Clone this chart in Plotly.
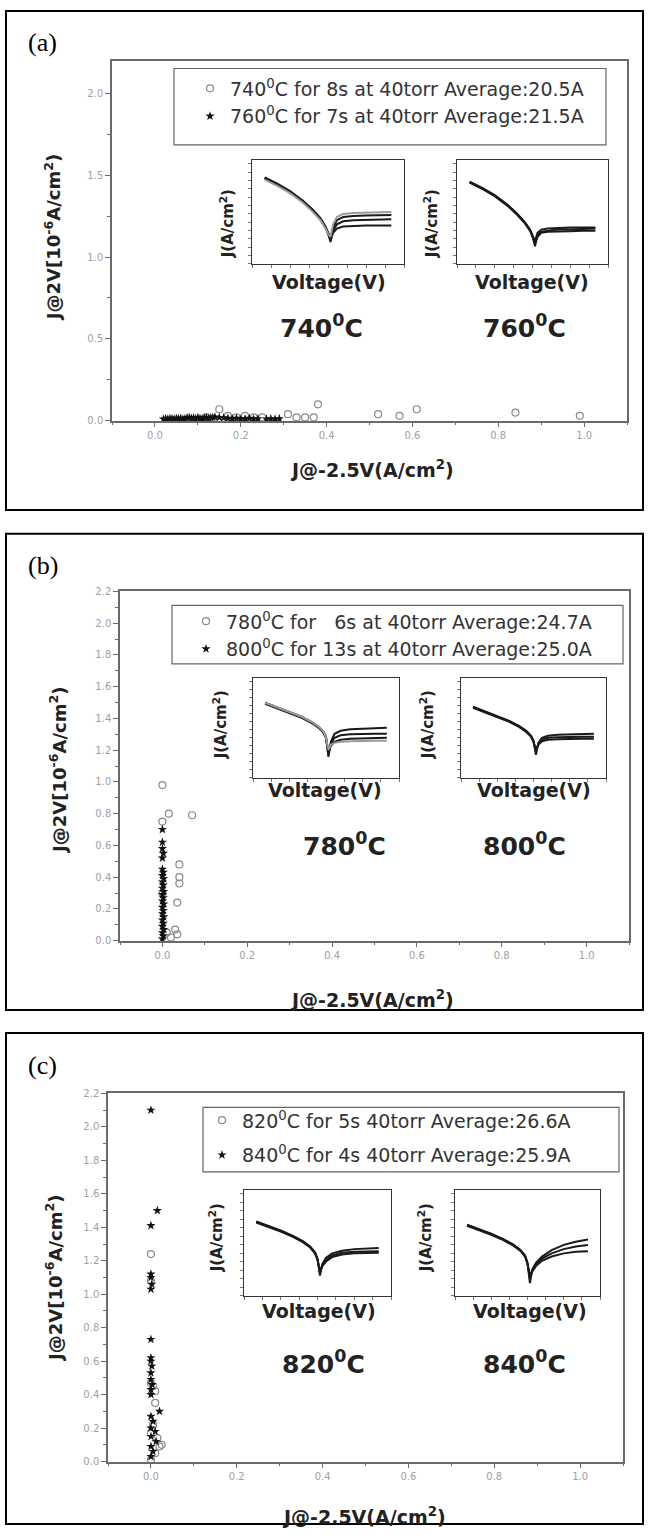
import plotly.graph_objects as go

W, H = 649, 1535

# ---------------- main scatter data ----------------
a_circ_x = [0.12, 0.15, 0.17, 0.19, 0.21, 0.23, 0.25, 0.31, 0.33, 0.35, 0.37, 0.38, 0.52, 0.57, 0.61, 0.84, 0.99]
a_circ_y = [0.02, 0.07, 0.03, 0.02, 0.03, 0.02, 0.02, 0.04, 0.02, 0.02, 0.02, 0.10, 0.04, 0.03, 0.07, 0.05, 0.03]
a_star_x = [0.02, 0.025, 0.03, 0.035, 0.04, 0.045, 0.05, 0.055, 0.06, 0.065, 0.07, 0.075, 0.08, 0.085,
            0.09, 0.095, 0.10, 0.105, 0.11, 0.115, 0.12, 0.125, 0.13, 0.135, 0.14, 0.15, 0.16, 0.17,
            0.18, 0.19, 0.20, 0.21, 0.22, 0.23, 0.24, 0.26, 0.27, 0.28, 0.29]
a_star_y = [0.01, 0.012, 0.01, 0.015, 0.012, 0.01, 0.015, 0.012, 0.015, 0.01, 0.012, 0.018, 0.02, 0.015,
            0.018, 0.012, 0.02, 0.015, 0.012, 0.018, 0.02, 0.015, 0.018, 0.02, 0.022, 0.02, 0.018, 0.015,
            0.012, 0.015, 0.01, 0.012, 0.015, 0.01, 0.012, 0.01, 0.012, 0.01, 0.012]

b_circ_x = [0.0, 0.015, 0.0, 0.07, 0.04, 0.04, 0.04, 0.035, 0.03, 0.035, 0.02, 0.01, 0.0]
b_circ_y = [0.98, 0.80, 0.75, 0.79, 0.48, 0.40, 0.36, 0.24, 0.07, 0.04, 0.02, 0.05, 0.30]
b_star_x = [0.0, 0.002, 0.0, 0.003, 0.0, 0.002, 0.0, 0.003, 0.0, 0.002, 0.0, 0.003, 0.0, 0.002,
            0.0, 0.003, 0.0, 0.002, 0.0, 0.003, 0.0, 0.002, 0.0, 0.0, 0.002, 0.0, 0.0, 0.0]
b_star_y = [0.01, 0.03, 0.05, 0.07, 0.09, 0.11, 0.13, 0.15, 0.17, 0.19, 0.21, 0.23, 0.25, 0.27,
            0.29, 0.31, 0.33, 0.35, 0.37, 0.39, 0.41, 0.43, 0.45, 0.52, 0.55, 0.58, 0.62, 0.70]

c_circ_x = [0.0, 0.0, 0.005, 0.01, 0.0, 0.01, 0.005, 0.0, 0.015, 0.02, 0.025, 0.01, 0.0]
c_circ_y = [1.24, 1.08, 0.45, 0.42, 0.47, 0.35, 0.22, 0.17, 0.14, 0.09, 0.10, 0.05, 0.01]
c_star_x = [0.0, 0.015, 0.0, 0.0, 0.0, 0.002, 0.0, 0.0, 0.0, 0.0, 0.002, 0.0, 0.0, 0.003,
            0.0, 0.0, 0.02, 0.0, 0.005, 0.0, 0.01, 0.0, 0.012, 0.0, 0.005, 0.0]
c_star_y = [2.10, 1.50, 1.41, 1.12, 1.10, 1.06, 1.03, 0.73, 0.62, 0.60, 0.57, 0.53, 0.49, 0.46,
            0.43, 0.40, 0.30, 0.27, 0.24, 0.20, 0.18, 0.15, 0.12, 0.09, 0.06, 0.03]

legend_a = ["740<sup>0</sup>C for 8s at 40torr Average:20.5A",
            "760<sup>0</sup>C for 7s at 40torr Average:21.5A"]
legend_b = ["780<sup>0</sup>C for \u00a0\u00a06s at 40torr Average:24.7A",
            "800<sup>0</sup>C for 13s at 40torr Average:25.0A"]
legend_c = ["820<sup>0</sup>C for 5s 40torr Average:26.6A",
            "840<sup>0</sup>C for 4s 40torr Average:25.9A"]
inset_temps = [["740", "760"], ["780", "800"], ["820", "840"]]

# ---------------- inset I-V data (log10 J vs V) ----------------
V = [-2.5, -2.0, -1.5, -1.0, -0.6, -0.3, -0.1, 0.0, 0.1, 0.2, 0.35, 0.6, 1.0, 1.5, 2.0, 2.5]

iv_740 = [
    [-1.7, -2.3, -3.0, -3.9, -4.8, -5.6, -6.4, -7.0, -7.9, -6.8, -6.2, -5.9, -5.8, -5.75, -5.7, -5.7],
    [-1.8, -2.4, -3.1, -4.0, -4.9, -5.7, -6.5, -7.1, -7.7, -7.0, -6.6, -6.4, -6.35, -6.3, -6.3, -6.3],
    [-1.75, -2.35, -3.05, -3.95, -4.85, -5.65, -6.45, -7.0, -7.5, -6.5, -5.8, -5.5, -5.4, -5.35, -5.3, -5.3],
    [-1.9, -2.5, -3.2, -4.1, -5.0, -5.8, -6.6, -7.1, -7.4, -6.2, -5.5, -5.2, -5.1, -5.05, -5.0, -5.0],
]
iv_760 = [
    [-2.1, -2.7, -3.4, -4.3, -5.2, -6.0, -6.7, -7.3, -8.3, -7.2, -6.9, -6.8, -6.7, -6.7, -6.65, -6.6],
    [-2.2, -2.8, -3.5, -4.4, -5.3, -6.1, -6.8, -7.4, -8.0, -7.4, -7.0, -6.9, -6.85, -6.85, -6.8, -6.8],
    [-2.15, -2.75, -3.45, -4.35, -5.25, -6.05, -6.75, -7.3, -7.8, -7.0, -6.7, -6.6, -6.55, -6.5, -6.5, -6.5],
]
iv_780 = [
    [-2.5, -2.95, -3.4, -3.9, -4.4, -4.9, -5.4, -5.9, -7.9, -6.4, -5.6, -5.3, -5.15, -5.1, -5.05, -5.0],
    [-2.55, -3.0, -3.45, -3.95, -4.45, -4.95, -5.45, -6.0, -7.6, -6.6, -6.0, -5.75, -5.65, -5.6, -5.6, -5.6],
    [-2.6, -3.05, -3.5, -4.0, -4.5, -5.0, -5.5, -6.05, -7.4, -6.8, -6.4, -6.2, -6.1, -6.05, -6.0, -6.0],
    [-2.5, -2.95, -3.4, -3.9, -4.4, -4.9, -5.4, -5.95, -7.2, -6.7, -6.5, -6.4, -6.35, -6.3, -6.3, -6.3],
]
iv_800 = [
    [-2.9, -3.35, -3.8, -4.3, -4.8, -5.3, -5.8, -6.3, -7.7, -6.5, -6.0, -5.8, -5.7, -5.65, -5.6, -5.6],
    [-2.95, -3.4, -3.85, -4.35, -4.85, -5.35, -5.85, -6.35, -7.4, -6.6, -6.2, -6.0, -5.95, -5.9, -5.9, -5.9],
    [-3.0, -3.45, -3.9, -4.4, -4.9, -5.4, -5.9, -6.4, -7.2, -6.7, -6.35, -6.2, -6.15, -6.1, -6.1, -6.1],
]
iv_820 = [
    [-3.0, -3.4, -3.85, -4.35, -4.85, -5.35, -5.9, -6.5, -8.1, -7.0, -6.4, -6.0, -5.75, -5.6, -5.55, -5.5],
    [-3.05, -3.45, -3.9, -4.4, -4.9, -5.4, -5.95, -6.55, -7.8, -7.1, -6.6, -6.2, -5.95, -5.85, -5.8, -5.8],
    [-3.1, -3.5, -3.95, -4.45, -4.95, -5.45, -6.0, -6.6, -7.6, -7.2, -6.75, -6.35, -6.1, -6.0, -5.95, -5.95],
]
iv_840 = [
    [-3.3, -3.7, -4.15, -4.65, -5.15, -5.65, -6.2, -6.9, -8.8, -7.5, -6.9, -6.3, -5.7, -5.2, -4.9, -4.7],
    [-3.35, -3.75, -4.2, -4.7, -5.2, -5.7, -6.25, -6.95, -8.4, -7.6, -7.0, -6.5, -6.0, -5.6, -5.35, -5.2],
    [-3.4, -3.8, -4.25, -4.75, -5.25, -5.75, -6.3, -7.0, -8.0, -7.7, -7.2, -6.7, -6.3, -6.0, -5.85, -5.8],
]

# ---------------- layout geometry (pixels) ----------------
def fx(p):
    return p / W

def fy(p):
    return 1 - p / H

panels = [
    dict(box=(6, 5, 643, 508), label="(a)", label_y=37,
         plot=(112, 55, 627, 418), ymax=2.2, ydt=0.5, ymin_dt=0.25,
         ytitle=(53, 233), xtitle=(372, 467),
         legend=(174, 63, 606, 140), leg_xy=(190, 64), leg_gap=0,
         insets=[(252, 155, 404, 260), (457, 155, 608, 260)],
         iv=[iv_740, iv_760],
         jlab_x=[227, 431], jlab_y=220, volt_y=278, volt_x=[329, 532],
         temp_y=323, temp_x=[321, 524]),
    dict(box=(6, 532, 643, 1012), label="(b)", label_y=564,
         plot=(120, 590, 629, 942), ymax=2.2, ydt=0.2, ymin_dt=0.1,
         ytitle=(58, 770), xtitle=(372, 1001),
         legend=(172, 604, 623, 663), leg_xy=(186, 601), leg_gap=0,
         insets=[(253, 677, 399, 778), (461, 677, 606, 778)],
         iv=[iv_780, iv_800],
         jlab_x=[220, 427], jlab_y=725, volt_y=790, volt_x=[325, 534],
         temp_y=845, temp_x=[344, 524]),
    dict(box=(6, 1035, 643, 1530), label="(c)", label_y=1068,
         plot=(108, 1096, 623, 1467), ymax=2.2, ydt=0.2, ymin_dt=0.1,
         ytitle=(54, 1283), xtitle=(364, 1522),
         legend=(203, 1110, 619, 1175), leg_xy=(202, 1104), leg_gap=7,
         insets=[(244, 1193, 391, 1300), (455, 1193, 600, 1300)],
         iv=[iv_820, iv_840],
         jlab_x=[216, 425], jlab_y=1242, volt_y=1315, volt_x=[319, 530],
         temp_y=1367, temp_x=[323, 524]),
]

series = [
    (a_circ_x, a_circ_y, a_star_x, a_star_y, legend_a),
    (b_circ_x, b_circ_y, b_star_x, b_star_y, legend_b),
    (c_circ_x, c_circ_y, c_star_x, c_star_y, legend_c),
]

fig = go.Figure()
layout = {}
shapes = []
annotations = []
SANS = "DejaVu Sans"
AXC = "#6a6a6a"
TXT = "#222222"

def bold_font(size):
    return dict(family=SANS, size=size, color=TXT, weight="bold")

for i, (p, s) in enumerate(zip(panels, series)):
    n = i + 1
    xa = "x" if n == 1 else f"x{n}"
    ya = "y" if n == 1 else f"y{n}"
    lg = "legend" if n == 1 else f"legend{n}"
    cx, cy, sx, sy, names = s

    fig.add_trace(go.Scatter(x=cx, y=cy, mode="markers", name=names[0], xaxis=xa, yaxis=ya,
                             legend=lg, legendgroup=f"g{n}a", cliponaxis=False,
                             marker=dict(symbol="circle-open", size=7, color="#8a8a8a",
                                         line=dict(width=1.2, color="#8a8a8a"))))
    fig.add_trace(go.Scatter(x=sx, y=sy, mode="markers", name=names[1], xaxis=xa, yaxis=ya,
                             legend=lg, legendgroup=f"g{n}b", cliponaxis=False,
                             marker=dict(symbol="star", size=7, color="#111111")))

    x0, y0, x1, y1 = p["plot"]
    axis_common = dict(showline=True, linecolor=AXC, linewidth=1.5, mirror=True,
                       ticks="outside", ticklen=5, tickcolor=AXC, showgrid=False,
                       zeroline=False, tickformat=".1f",
                       tickfont=dict(family=SANS, size=10, color="#a0a0a0"))
    layout["xaxis" if n == 1 else f"xaxis{n}"] = dict(
        axis_common, domain=[fx(x0), fx(x1)], range=[-0.1, 1.1], tick0=0, dtick=0.2,
        anchor=ya, minor=dict(dtick=0.1, tick0=0, ticks="outside", ticklen=3, tickcolor=AXC))
    layout["yaxis" if n == 1 else f"yaxis{n}"] = dict(
        axis_common, domain=[fy(y1), fy(y0)], range=[0, p["ymax"]], tick0=0, dtick=p["ydt"],
        anchor=xa, minor=dict(dtick=p["ymin_dt"], tick0=0, ticks="outside", ticklen=3,
                              tickcolor=AXC))

    # legend (native entries, box drawn as a shape)
    lx0, ly0, lx1, ly1 = p["legend"]
    layout[lg] = dict(x=fx(p["leg_xy"][0]), y=fy(p["leg_xy"][1]), xanchor="left", yanchor="top",
                      bgcolor="rgba(0,0,0,0)", borderwidth=0, tracegroupgap=p["leg_gap"],
                      font=dict(family=SANS, size=19, color="#333333"))
    shapes.append(dict(type="rect", xref="paper", yref="paper", x0=fx(lx0), x1=fx(lx1),
                       y0=fy(ly1), y1=fy(ly0), line=dict(color="#666666", width=1.2)))

    # panel border and label
    bx0, by0, bx1, by1 = p["box"]
    shapes.append(dict(type="rect", xref="paper", yref="paper", x0=fx(bx0), x1=fx(bx1),
                       y0=fy(by1), y1=fy(by0), line=dict(color="#000000", width=2)))
    annotations.append(dict(text=p["label"], x=fx(26), y=fy(p["label_y"]), xref="paper",
                            yref="paper", xanchor="left", yanchor="middle", showarrow=False,
                            font=dict(family="Liberation Serif", size=26, color="#000")))

    # axis titles
    annotations.append(dict(text="J@2V[10<sup>-6</sup>A/cm<sup>2</sup>)",
                            x=fx(p["ytitle"][0]), y=fy(p["ytitle"][1]), xref="paper",
                            yref="paper", textangle=-90, showarrow=False,
                            xanchor="center", yanchor="middle", font=bold_font(18)))
    annotations.append(dict(text="J@-2.5V(A/cm<sup>2</sup>)",
                            x=fx(p["xtitle"][0]), y=fy(p["xtitle"][1]), xref="paper",
                            yref="paper", showarrow=False, xanchor="center", yanchor="middle",
                            font=bold_font(19)))

    # insets
    for k in range(2):
        m = 3 + 2 * i + k + 1
        ixa, iya = f"x{m}", f"y{m}"
        ix0, iy0, ix1, iy1 = p["insets"][k]
        curves = p["iv"][k]
        for j, c in enumerate(curves):
            col = "#9a9a9a" if (len(curves) == 4 and j == 3) else "#1a1a1a"
            fig.add_trace(go.Scatter(x=V, y=c, mode="lines", xaxis=ixa, yaxis=iya,
                                     showlegend=False, line=dict(color=col, width=2)))
        inset_ax = dict(showline=True, linecolor="#333", linewidth=1, mirror=True,
                        ticks="outside", ticklen=3, tickcolor="#777", showticklabels=False,
                        showgrid=False, zeroline=False)
        layout[f"xaxis{m}"] = dict(inset_ax, domain=[fx(ix0), fx(ix1)], range=[-3, 3],
                                   dtick=0.75, tick0=-3, anchor=iya)
        layout[f"yaxis{m}"] = dict(inset_ax, domain=[fy(iy1), fy(iy0)], range=[-10, 0],
                                   dtick=0.8, tick0=-10, anchor=ixa)
        annotations.append(dict(text="J(A/cm<sup>2</sup>)", x=fx(p["jlab_x"][k]),
                                y=fy(p["jlab_y"]), xref="paper", yref="paper",
                                textangle=-90, showarrow=False, xanchor="center",
                                yanchor="middle", font=bold_font(15)))
        annotations.append(dict(text="Voltage(V)", x=fx(p["volt_x"][k]),
                                y=fy(p["volt_y"]), xref="paper", yref="paper",
                                showarrow=False, xanchor="center", yanchor="middle",
                                font=bold_font(19)))
        annotations.append(dict(text=inset_temps[i][k] + "<sup>0</sup>C",
                                x=fx(p["temp_x"][k]), y=fy(p["temp_y"]), xref="paper",
                                yref="paper", showarrow=False, xanchor="center",
                                yanchor="middle", font=bold_font(25)))

fig.update_layout(width=W, height=H, margin=dict(l=0, r=0, t=0, b=0),
                  paper_bgcolor="white", plot_bgcolor="white",
                  shapes=shapes, annotations=annotations, **layout)

fig.write_html("out.html")
